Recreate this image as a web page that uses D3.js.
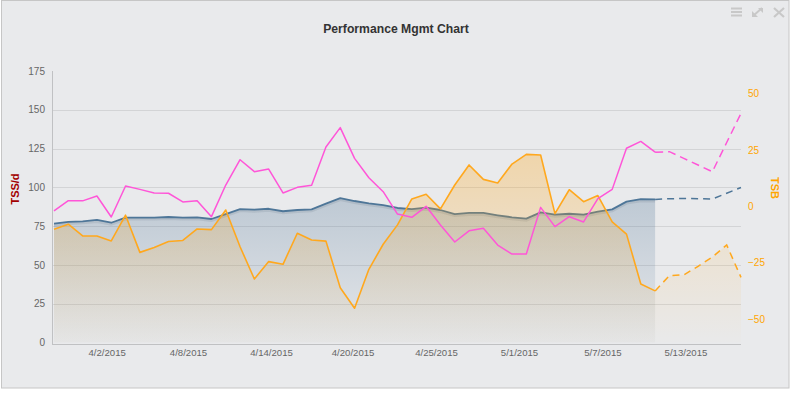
<!DOCTYPE html>
<html><head><meta charset="utf-8">
<script src="https://cdn.jsdelivr.net/npm/d3@7"></script>
<style>
html,body{margin:0;padding:0;background:#fff;}
svg{display:block;font-family:"Liberation Sans",Arial,sans-serif;}
</style></head>
<body>
<svg id="c" width="791" height="393"></svg>
<script>
// ---- data ----
const ctl = [76.6,77.7,78.1,79,77.2,80.5,80.5,80.5,80.9,80.5,80.7,79.6,82.8,86,85.6,86.2,84.6,85.4,85.8,89.5,93.1,91.2,89.7,88.6,86.7,86,86.9,85.4,82.8,83.5,83.5,82,80.7,79.8,83.9,82.4,83,82.4,84.3,85.8,90.8,92.4,92.2,92.7,92.8,92.7,92.5,96.2,99.9];
const atl = [84.8,91.4,91.3,94.4,80.9,100.9,98.7,96.4,96.2,90.6,91.4,81.1,101.5,117.8,110.1,111.8,96.4,100,101.3,126,138.5,118.7,106.2,97.2,82.8,80.7,87.8,75.7,64.8,72,73.6,62.8,57,57,87.1,74.7,81.1,77.7,92.7,98.7,125.2,129.6,122.7,123,118.7,114.4,110.1,128.9,147.7];
const tsb = [-10.2,-8.0,-13.2,-13.2,-15.4,-4.0,-20.5,-18.3,-15.7,-15.2,-10.1,-10.4,-1.7,-18,-32.3,-24.6,-25.8,-12,-15,-15.5,-36.2,-45.3,-28,-16.9,-8.3,3.2,5.3,-1.2,9.4,18.3,11.9,10.3,18.7,23,22.7,-3.3,7.3,2,4.7,-7,-12.4,-34.5,-37.6,-30.8,-30.5,-26.7,-22.6,-17.2,-31.6];
const lastActual = 42; // index where forecast begins
const xTickPos = [3.68,9.36,15.16,20.86,26.69,32.49,38.32,44.12];
const xTickLabels = ["4/2/2015","4/8/2015","4/14/2015","4/20/2015","4/25/2015","5/1/2015","5/7/2015","5/13/2015"];
const leftTicks = [0,25,50,75,100,125,150,175];
const rightTicks = [-50,-25,0,25,50];

const svg = d3.select("#c");
const L = 52, R = 741, T = 71, B = 342.5;
const FONT = "'Liberation Sans',Arial,sans-serif";

// chart frame
svg.append("rect").attr("x",1.5).attr("y",0.5).attr("width",787.5).attr("height",387.5)
  .attr("fill","#e9eaec").attr("stroke","#c6c6c6");

const x = d3.scaleLinear().domain([0, ctl.length-1]).range([54, R]);
const yL = d3.scaleLinear().domain([0,175]).range([B, T]);
const yR = d3.scaleLinear().domain([-60.5,60]).range([B, T]);

const defs = svg.append("defs");
function grad(id, color, top, bottom, a0, a1){
  const g = defs.append("linearGradient").attr("id",id).attr("gradientUnits","userSpaceOnUse")
    .attr("x1",0).attr("x2",0).attr("y1",top).attr("y2",bottom);
  g.append("stop").attr("offset",0).attr("stop-color",color).attr("stop-opacity",a0);
  g.append("stop").attr("offset",1).attr("stop-color",color).attr("stop-opacity",a1);
}
const actualIdx = d3.range(0, lastActual+1);
const fcIdx = d3.range(lastActual, ctl.length);
grad("gBlue","#4f7496", yL(d3.max(ctl.slice(0,lastActual+1))), B, 0.28, 0.03);
grad("gOrange","#ffa514", yR(d3.max(tsb.slice(0,lastActual+1))), B, 0.30, 0.02);
grad("gOrangeF","#ffa514", yR(d3.max(tsb.slice(lastActual))), B, 0.12, 0.01);

// gridlines
svg.append("g").selectAll("line").data(leftTicks.filter(v=>v>0 && v<175)).join("line")
  .attr("x1",L).attr("x2",R).attr("y1",d=>Math.round(yL(d))+0.5).attr("y2",d=>Math.round(yL(d))+0.5)
  .attr("stroke","#d3d4d6").attr("stroke-width",1);

const areaL = arr => d3.area().x(i=>x(i)).y0(B).y1(i=>yL(arr[i]));
const areaR = arr => d3.area().x(i=>x(i)).y0(B).y1(i=>yR(arr[i]));
const lineL = arr => d3.line().x(i=>x(i)).y(i=>yL(arr[i]));
const lineR = arr => d3.line().x(i=>x(i)).y(i=>yR(arr[i]));

// CTL
svg.append("path").attr("d",areaL(ctl)(actualIdx)).attr("fill","url(#gBlue)");
svg.append("path").attr("d",lineL(ctl)(actualIdx)).attr("fill","none")
  .attr("stroke","rgba(40,60,80,0.10)").attr("stroke-width",3).attr("transform","translate(0,1.5)");
svg.append("path").attr("d",lineL(ctl)(actualIdx)).attr("fill","none")
  .attr("stroke","#4e7698").attr("stroke-width",1.8).attr("stroke-linejoin","round");
svg.append("path").attr("d",lineL(ctl)(fcIdx)).attr("fill","none")
  .attr("stroke","#4e7698").attr("stroke-width",1.5).attr("stroke-dasharray","7,5");

// TSB
svg.append("path").attr("d",areaR(tsb)(actualIdx)).attr("fill","url(#gOrange)");
svg.append("path").attr("d",areaR(tsb)(fcIdx)).attr("fill","url(#gOrangeF)");
svg.append("path").attr("d",lineR(tsb)(actualIdx)).attr("fill","none")
  .attr("stroke","#ffa81e").attr("stroke-width",1.6).attr("stroke-linejoin","round");
svg.append("path").attr("d",lineR(tsb)(fcIdx)).attr("fill","none")
  .attr("stroke","#ffa81e").attr("stroke-width",1.5).attr("stroke-dasharray","7,5");

// ATL
svg.append("path").attr("d",lineL(atl)(actualIdx)).attr("fill","none")
  .attr("stroke","#ff55d8").attr("stroke-width",1.5).attr("stroke-linejoin","round");
svg.append("path").attr("d",lineL(atl)(fcIdx)).attr("fill","none")
  .attr("stroke","#ff55d8").attr("stroke-width",1.5).attr("stroke-dasharray","8,5");

// axis lines
svg.append("line").attr("x1",L+0.5).attr("x2",L+0.5).attr("y1",T).attr("y2",344.5).attr("stroke","#c0c1c3");
svg.append("line").attr("x1",L).attr("x2",R).attr("y1",344.5).attr("y2",344.5).attr("stroke","#c0c1c3");

// left axis
const gl = svg.append("g").attr("transform",`translate(${L-7},0)`)
  .call(d3.axisLeft(yL).tickValues(leftTicks).tickSize(0).tickPadding(0));
gl.select(".domain").remove();
gl.selectAll("text").attr("fill","#666").style("font-size","10px").style("font-family",FONT);

// right axis
const gr = svg.append("g").attr("transform",`translate(748,0)`)
  .call(d3.axisRight(yR).tickValues(rightTicks).tickSize(0).tickPadding(0));
gr.select(".domain").remove();
gr.selectAll("text").attr("fill","#ffa500").style("font-size","10px").style("font-family",FONT);

// bottom axis
const gb = svg.append("g").attr("transform",`translate(0,349)`)
  .call(d3.axisBottom(x).tickValues(xTickPos).tickFormat((d,i)=>xTickLabels[i]).tickSize(0).tickPadding(0));
gb.select(".domain").remove();
gb.selectAll("text").attr("fill","#666").attr("dy","0.71em").style("font-size","9.6px").style("font-family",FONT);

// titles
svg.append("text").attr("x",396).attr("y",33).attr("text-anchor","middle")
  .attr("fill","#333").style("font-size","12.2px").style("font-weight","bold").style("font-family",FONT).text("Performance Mgmt Chart");
svg.append("text").attr("transform","translate(19,189) rotate(-90)").attr("text-anchor","middle")
  .attr("fill","#a30000").style("font-size","11px").style("font-weight","bold").style("font-family",FONT).text("TSS/d");
svg.append("text").attr("transform","translate(771,188) rotate(90)").attr("text-anchor","middle")
  .attr("fill","#ffa500").style("font-size","11px").style("font-weight","bold").style("font-family",FONT).text("TSB");

// toolbar icons
const ic = svg.append("g").attr("stroke","#c8c8c8").attr("fill","none");
[8.5,12,15.5].forEach(yy=>ic.append("line").attr("x1",731).attr("x2",742).attr("y1",yy).attr("y2",yy).attr("stroke-width",2));
ic.append("path").attr("d","M753,16 L762,8").attr("stroke-width",2);
ic.append("path").attr("d","M758,8 L763,8 L763,13 Z").attr("fill","#c8c8c8").attr("stroke","none");
ic.append("path").attr("d","M752,11 L752,17 L758,17 Z").attr("fill","#c8c8c8").attr("stroke","none");
ic.append("path").attr("d","M774,8 L784,17 M784,8 L774,17").attr("stroke-width",2.2);
</script>
</body></html>
